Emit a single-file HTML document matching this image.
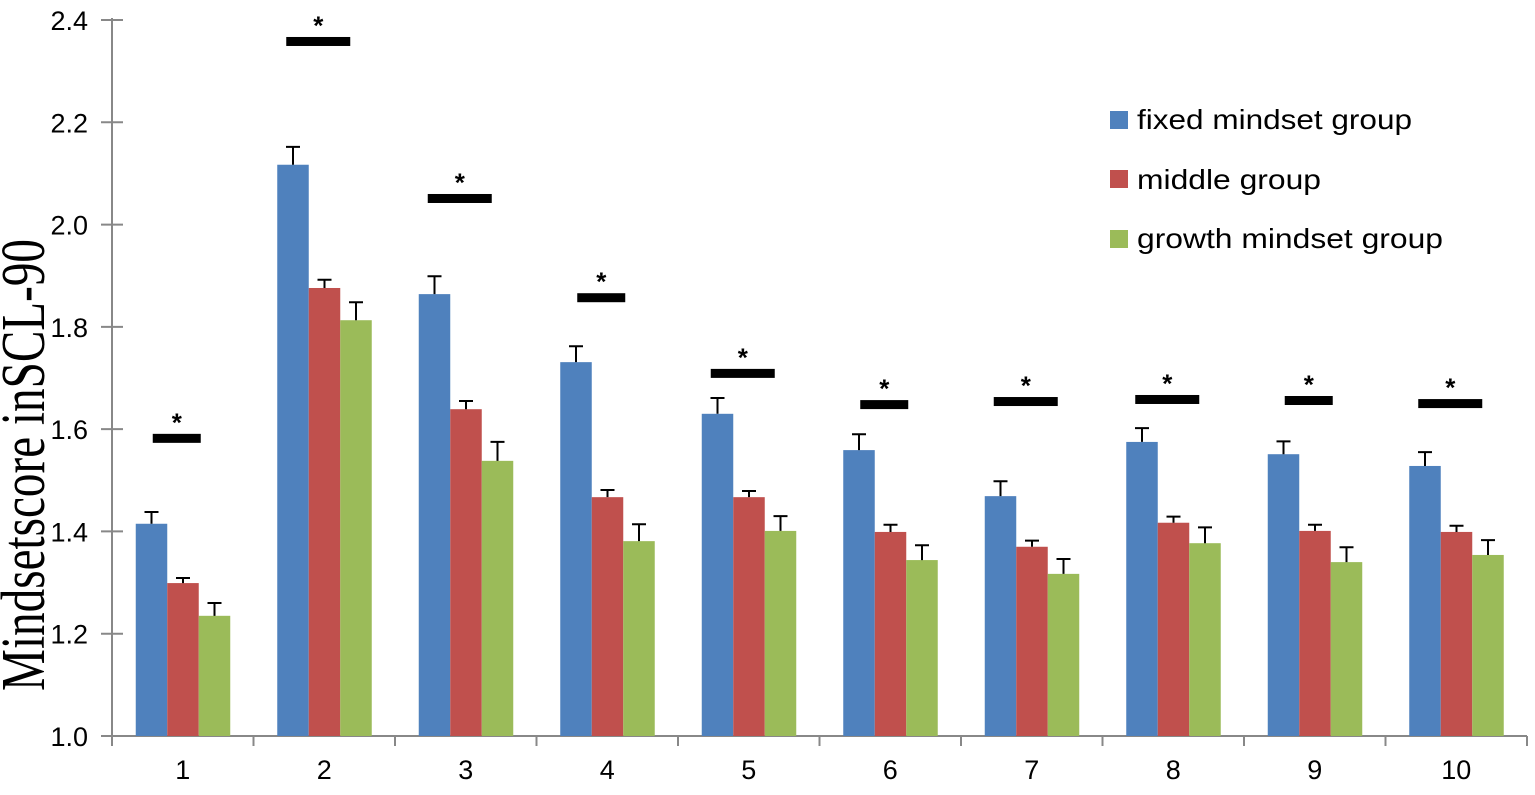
<!DOCTYPE html>
<html><head><meta charset="utf-8"><style>
html,body{margin:0;padding:0;background:#fff;}
svg{display:block;}
</style></head><body>
<svg id="chart" width="1535" height="795" xmlns="http://www.w3.org/2000/svg">
<text transform="translate(44,465) rotate(-90)" text-anchor="middle" font-family="Liberation Serif, serif" font-size="62" textLength="452" lengthAdjust="spacingAndGlyphs" fill="#000">Mindsetscore inSCL-90</text>
<g id="plot"></g>
<g>
<rect x="1110" y="111" width="18" height="18" fill="#4F81BD"/>
<text x="1137" y="129" font-family="Liberation Sans, sans-serif" font-size="28" textLength="275" lengthAdjust="spacingAndGlyphs" fill="#000">fixed mindset group</text>
<rect x="1110" y="170" width="18" height="18" fill="#C0504D"/>
<text x="1137" y="189" font-family="Liberation Sans, sans-serif" font-size="28" textLength="184" lengthAdjust="spacingAndGlyphs" fill="#000">middle group</text>
<rect x="1110" y="230" width="18" height="18" fill="#9BBB59"/>
<text x="1137" y="248" font-family="Liberation Sans, sans-serif" font-size="28" textLength="306" lengthAdjust="spacingAndGlyphs" fill="#000">growth mindset group</text>
</g>
</svg>
<script>
const categories = ["1","2","3","4","5","6","7","8","9","10"];
const fixedVals = [1.415,2.117,1.864,1.731,1.630,1.559,1.469,1.575,1.551,1.528];
const fixedErr = [0.023,0.035,0.035,0.031,0.031,0.031,0.029,0.027,0.025,0.027];
const middleVals = [1.299,1.876,1.639,1.467,1.467,1.399,1.370,1.417,1.401,1.399];
const middleErr = [0.010,0.016,0.016,0.014,0.012,0.014,0.012,0.012,0.012,0.012];
const growthVals = [1.235,1.813,1.538,1.381,1.401,1.344,1.317,1.377,1.340,1.354];
const growthErr = [0.025,0.035,0.037,0.033,0.029,0.029,0.029,0.031,0.029,0.029];
const sigLevels = [1.582,2.358,2.051,1.857,1.709,1.648,1.654,1.658,1.656,1.650];
const sigSpan = [1.5,2,2,1.5,2,1.5,2,2,1.5,2];
const yTicks = [1.0,1.2,1.4,1.6,1.8,2.0,2.2,2.4];
const yTickLabels = ["1.0","1.2","1.4","1.6","1.8","2.0","2.2","2.4"];

const NS="http://www.w3.org/2000/svg";
const X0=112,X1=1527,Y0=736,Y1=20,YMIN=1.0,YMAX=2.4;
const band=(X1-X0)/categories.length;
const y=v=>Y0-(v-YMIN)/(YMAX-YMIN)*(Y0-Y1);
const xc=i=>X0+band*(i+0.5);
const g=document.getElementById('plot');
function mk(tag,attrs){const e=document.createElementNS(NS,tag);for(const k in attrs)e.setAttribute(k,attrs[k]);g.appendChild(e);return e;}

let e=mk('line',{x1:X0,y1:Y1-2,x2:X0,y2:Y0,stroke:'#888','stroke-width':2});


e=mk('line',{x1:X0,y1:Y0,x2:X1,y2:Y0,stroke:'#888','stroke-width':2});


yTicks.forEach((t,i)=>{
  const ty=y(t);
  let l=mk('line',{x1:X0-11,y1:ty,x2:X0+11,y2:ty,stroke:'#888','stroke-width':2});
  
  
  let tx=mk('text',{x:88,y:ty+10,'text-anchor':'end','font-family':'Liberation Sans, sans-serif','font-size':27,fill:'#000'});
  tx.textContent=yTickLabels[i];
  
  
});
for(let i=0;i<=categories.length;i++){
  let l=mk('line',{x1:X0+band*i,y1:Y0,x2:X0+band*i,y2:Y0+10,stroke:'#888','stroke-width':2});
  
  
}
const series=[[fixedVals,fixedErr,'#4F81BD','fixed'],[middleVals,middleErr,'#C0504D','middle'],[growthVals,growthErr,'#9BBB59','growth']];
const bw=31.5;
categories.forEach((c,i)=>{
  const cx=xc(i);
  series.forEach((s,j)=>{
    const bx=cx-47+j*bw, v=s[0][i], er=s[1][i];
    let r=mk('rect',{x:bx,y:y(v),width:bw,height:Y0-y(v),fill:s[2]});
    
    
    const mx=bx+bw/2;
    let el=mk('path',{d:`M${mx},${y(v)}V${y(v+er)}M${mx-7},${y(v+er)}H${mx+7}`,stroke:'#000','stroke-width':2,fill:'none'});
    
    
  });
  const sy=y(sigLevels[i]), hw=sigSpan[i]*16;
  let sb=mk('rect',{x:cx-hw-6,y:sy-4.5,width:hw*2,height:9,fill:'#000'});
  
  
  let st=mk('text',{x:cx-6,y:sy-7,'text-anchor':'middle','font-family':'Liberation Sans, sans-serif','font-size':26,'font-weight':'bold',fill:'#000'});
  st.textContent='*';
  
  
  let xl=mk('text',{x:cx,y:Y0+43,'text-anchor':'middle','font-family':'Liberation Sans, sans-serif','font-size':27,fill:'#000'});
  xl.textContent=c;
  
  
});
</script>
</body></html>
